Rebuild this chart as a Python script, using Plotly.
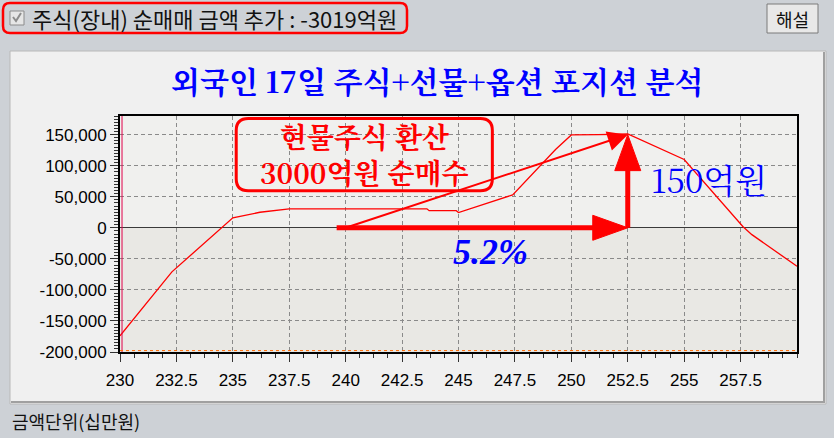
import plotly.graph_objects as go

# ---------------- data ----------------
strike = [230.0, 232.3, 235.0, 236.2, 237.5, 243.6, 243.7, 244.9, 245.0, 247.4,
          249.3, 250.0, 251.2, 252.5, 255.0, 257.6, 258.0, 260.0]
pnl = [-174000, -71000, 16000, 25000, 30500, 30500, 27500, 27500, 24500, 53000,
       126000, 149500, 150000, 151000, 110000, 2000, -11000, -62000]

x_ticks = [230, 232.5, 235, 237.5, 240, 242.5, 245, 247.5, 250, 252.5, 255, 257.5]
x_labels = ["230", "232.5", "235", "237.5", "240", "242.5", "245", "247.5",
            "250", "252.5", "255", "257.5"]
y_ticks = [150000, 100000, 50000, 0, -50000, -100000, -150000, -200000]
y_labels = ["150,000", "100,000", "50,000", "0", "-50,000", "-100,000",
            "-150,000", "-200,000"]

x_range = [230, 260]
y_range = [-200000, 180000]

# arrows (data coordinates)
arrow_h_x = [239.6, 252.5]      # horizontal thick arrow along y=0
arrow_v_y = [0, 150000]         # vertical thick arrow at x=252.5
arrow_thin = [(240.0, 0), (252.5, 150000)]

title_text = "외국인 17일 주식+선물+옵션 포지션 분석"
box_lines = ["현물주식 환산", "3000억원 순매수"]
label_150 = "150억원"
label_pct = "5.2%"
top_label = "주식(장내) 순매매 금액 추가 : -3019억원"
button_label = "해설"
unit_label = "금액단위(십만원)"

# ---------------- geometry helpers ----------------
W, H = 834, 438
ML, MR, MT, MB = 120, 37, 116, 86
PW = W - ML - MR
PH = H - MT - MB


def px(x):
    return (x - ML) / PW


def py(y):
    return (H - MB - y) / PH


def rpath_px(x0, y0, x1, y1, r):
    pts = [("M", x0 + r, y0), ("L", x1 - r, y0), ("Q", x1, y0, x1, y0 + r),
           ("L", x1, y1 - r), ("Q", x1, y1, x1 - r, y1), ("L", x0 + r, y1),
           ("Q", x0, y1, x0, y1 - r), ("L", x0, y0 + r), ("Q", x0, y0, x0 + r, y0)]
    s = ""
    for p in pts:
        if p[0] == "Q":
            s += f"Q{px(p[1]):.5f},{py(p[2]):.5f} {px(p[3]):.5f},{py(p[4]):.5f} "
        else:
            s += f"{p[0]}{px(p[1]):.5f},{py(p[2]):.5f} "
    return s + "Z"


def rpath_data(x0, y0, x1, y1, rpx):
    rx = rpx * (x_range[1] - x_range[0]) / PW
    ry = rpx * (y_range[1] - y_range[0]) / PH
    return (f"M{x0+rx},{y1} L{x1-rx},{y1} Q{x1},{y1} {x1},{y1-ry} "
            f"L{x1},{y0+ry} Q{x1},{y0} {x1-rx},{y0} L{x0+rx},{y0} "
            f"Q{x0},{y0} {x0},{y0+ry} L{x0},{y1-ry} Q{x0},{y1} {x0+rx},{y1} Z")


def ypx_to_data(ypix):
    return (H - MB - ypix) / PH * (y_range[1] - y_range[0]) + y_range[0]


KR = "Noto Sans CJK KR"
SERIF_KR = "Noto Serif CJK KR, Noto Sans CJK KR"
RED = "#ff0000"
BLUE = "#0000ff"

fig = go.Figure()
fig.add_trace(go.Scatter(x=strike, y=pnl, mode="lines",
                         line=dict(color=RED, width=1.3), hoverinfo="skip",
                         showlegend=False))

shapes = []
# panel
shapes.append(dict(type="rect", xref="paper", yref="paper", layer="below",
                   x0=px(10), x1=px(826), y0=py(404), y1=py(51),
                   fillcolor="#f0f0f0", line=dict(color="#b8b8b8", width=1)))
shapes.append(dict(type="path", xref="paper", yref="paper", layer="below",
                   path=f"M{px(824)},{py(52)} L{px(824)},{py(402)} L{px(11)},{py(402)}",
                   line=dict(color="#a0a0a0", width=2)))
# plot area backgrounds
shapes.append(dict(type="rect", xref="paper", yref="paper", layer="below",
                   x0=0, x1=1, y0=0, y1=1, fillcolor="#f0f0ee", line=dict(width=0)))
shapes.append(dict(type="rect", xref="x", yref="y", layer="below",
                   x0=x_range[0], x1=x_range[1], y0=y_range[0], y1=0,
                   fillcolor="#e9e8e4", line=dict(width=0)))
# inner red line on left axis, orange dotted at bottom
shapes.append(dict(type="line", xref="paper", yref="paper", x0=0.003, x1=0.003,
                   y0=0, y1=1, line=dict(color="#e0004a", width=1)))
shapes.append(dict(type="line", xref="paper", yref="paper", x0=0, x1=1,
                   y0=0.006, y1=0.006, line=dict(color="#ff6a00", width=1, dash="dot")))

# big red rounded box
shapes.append(dict(type="path", xref="x", yref="y",
                   path=rpath_data(235.15, 59700, 246.5, 175800, 12),
                   line=dict(color=RED, width=3)))

# thick horizontal arrow
head_len_h = 35
shaft_end = arrow_h_x[1] - (head_len_h - 2) * (x_range[1] - x_range[0]) / PW
shapes.append(dict(type="line", xref="x", yref="y", x0=arrow_h_x[0], x1=shaft_end,
                   y0=0, y1=0, line=dict(color=RED, width=5)))
shapes.append(dict(type="path", xref="x", yref="y", xsizemode="pixel", ysizemode="pixel",
                   xanchor=arrow_h_x[1], yanchor=0,
                   path=f"M0,0 L-{head_len_h},12.5 L-{head_len_h},-12.5 Z",
                   fillcolor=RED, line=dict(color=RED, width=1)))
# thick vertical arrow
head_len_v = 36
vshaft_end = arrow_v_y[1] - (head_len_v - 2) * (y_range[1] - y_range[0]) / PH
shapes.append(dict(type="line", xref="x", yref="y", x0=arrow_h_x[1], x1=arrow_h_x[1],
                   y0=arrow_v_y[0], y1=vshaft_end, line=dict(color=RED, width=5)))
shapes.append(dict(type="path", xref="x", yref="y", xsizemode="pixel", ysizemode="pixel",
                   xanchor=arrow_h_x[1], yanchor=arrow_v_y[1],
                   path=f"M0,0 L-13,-{head_len_v} L13,-{head_len_v} Z",
                   fillcolor=RED, line=dict(color=RED, width=1)))

# top red rounded box, checkbox, button
shapes.append(dict(type="path", xref="paper", yref="paper",
                   path=rpath_px(3, 3, 407, 33, 7), line=dict(color=RED, width=2.5)))
shapes.append(dict(type="rect", xref="paper", yref="paper",
                   x0=px(10), x1=px(24), y0=py(25), y1=py(11),
                   fillcolor="#e6e6e6", line=dict(color="#8c8c8c", width=1)))
shapes.append(dict(type="path", xref="paper", yref="paper",
                   path=f"M{px(13)},{py(17)} L{px(16)},{py(21)} L{px(21)},{py(13)}",
                   line=dict(color="#8c8c8c", width=2)))
shapes.append(dict(type="rect", xref="paper", yref="paper",
                   x0=px(767), x1=px(818), y0=py(33), y1=py(4),
                   fillcolor="#e8e8e8", line=dict(color="#7a7a7a", width=1)))

annotations = []
annotations.append(dict(xref="paper", yref="paper", x=px(437), y=py(80),
                        xanchor="center", yanchor="middle",
                        text=f"<b>{title_text}</b>", showarrow=False,
                        font=dict(family=SERIF_KR, size=30, color=BLUE)))
annotations.append(dict(xref="x", yref="y", x=240.83, y=ypx_to_data(154),
                        xanchor="center", yanchor="middle",
                        text="<b>" + "<br>".join(box_lines) + "</b>", showarrow=False,
                        font=dict(family=SERIF_KR, size=28, color=RED)))
annotations.append(dict(xref="x", yref="y", x=256.1, y=ypx_to_data(178),
                        xanchor="center", yanchor="middle", text=label_150,
                        showarrow=False,
                        font=dict(family=SERIF_KR, size=33, color=BLUE)))
annotations.append(dict(xref="x", yref="y", x=246.4, y=ypx_to_data(252),
                        xanchor="center", yanchor="middle",
                        text=f"<b><i>{label_pct}</i></b>", showarrow=False,
                        font=dict(family="Liberation Serif", size=36, color=BLUE)))
# thin arrow
annotations.append(dict(xref="x", yref="y", axref="x", ayref="y",
                        x=arrow_thin[1][0], y=arrow_thin[1][1],
                        ax=arrow_thin[0][0], ay=arrow_thin[0][1],
                        text="", showarrow=True, arrowhead=2, arrowsize=2,
                        arrowwidth=2, arrowcolor=RED, standoff=0))
annotations.append(dict(xref="paper", yref="paper", x=px(30), y=py(18),
                        xanchor="left", yanchor="middle", text=top_label,
                        showarrow=False,
                        font=dict(family=KR, size=22, color="#111111")))
annotations.append(dict(xref="paper", yref="paper", x=px(792.5), y=py(18.5),
                        xanchor="center", yanchor="middle",
                        text=button_label, showarrow=False,
                        font=dict(family=KR, size=18, color="#111111")))
annotations.append(dict(xref="paper", yref="paper", x=px(10), y=py(421),
                        xanchor="left", yanchor="middle", text=unit_label,
                        showarrow=False,
                        font=dict(family=KR, size=18, color="#111111")))

tickfont = dict(family="Liberation Sans", size=17, color="#000000")
fig.update_layout(
    width=W, height=H, autosize=False,
    margin=dict(l=ML, r=MR, t=MT, b=MB, pad=0),
    paper_bgcolor="#cdd1d6", plot_bgcolor="rgba(0,0,0,0)",
    shapes=shapes, annotations=annotations, showlegend=False,
    xaxis=dict(range=x_range, tickmode="array", tickvals=x_ticks, ticktext=x_labels,
               showgrid=True, gridcolor="#8a8a8a", griddash="4px,3px", gridwidth=1,
               ticks="outside", ticklen=8, tickcolor="#333333", tickwidth=1,
               showline=True, linecolor="#000000", linewidth=2, mirror=True,
               zeroline=False, tickfont=tickfont, ticklabelstandoff=4,
               minor=dict(tickmode="linear", tick0=230, dtick=0.625, ticks="outside",
                          ticklen=4, tickcolor="#333333", showgrid=False)),
    yaxis=dict(range=y_range, tickmode="array", tickvals=y_ticks, ticktext=y_labels,
               showgrid=True, gridcolor="#8a8a8a", griddash="4px,3px", gridwidth=1,
               ticks="outside", ticklen=8, tickcolor="#333333", tickwidth=1,
               showline=True, linecolor="#000000", linewidth=2, mirror=True,
               zeroline=True, zerolinecolor="#3a3a3a", zerolinewidth=1,
               tickfont=tickfont,
               minor=dict(tickmode="linear", tick0=0, dtick=5000, ticks="outside",
                          ticklen=4, tickcolor="#333333", showgrid=False)),
)

fig.write_html("out.html", config={"displayModeBar": False},
               post_script="document.body.style.margin='0';document.body.style.overflow='hidden';")
